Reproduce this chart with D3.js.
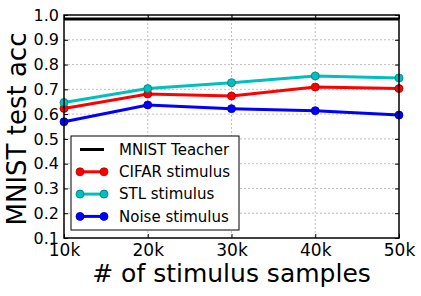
<!DOCTYPE html>
<html>
<head>
<meta charset="utf-8">
<script src="https://cdn.jsdelivr.net/npm/d3@7"></script>
<style>
  body { margin: 0; background: #fff; }
  svg { font-family: "DejaVu Sans", sans-serif; }
  .grid line { stroke: #b0b0b0; stroke-dasharray: 2,2; stroke-width: 0.8; }
</style>
</head>
<body>
<div id="chart"></div>
<script>
// data
var samples = [10000, 20000, 30000, 40000, 50000];
var xTickLabels = ["10k", "20k", "30k", "40k", "50k"];
var yTicks = [0.1, 0.2, 0.3, 0.4, 0.5, 0.6, 0.7, 0.8, 0.9, 1.0];
var teacherAcc = 0.984;
var cifarAcc = [0.623, 0.681, 0.673, 0.709, 0.703];
var stlAcc = [0.647, 0.703, 0.727, 0.754, 0.746];
var noiseAcc = [0.569, 0.637, 0.622, 0.614, 0.596];

var series = [
  {name: "CIFAR stimulus", values: cifarAcc, color: "#ff0000"},
  {name: "STL stimulus", values: stlAcc, color: "#00bfbf"},
  {name: "Noise stimulus", values: noiseAcc, color: "#0000ff"}
];

var W = 421, H = 296;
var margin = {top: 15, right: 22, bottom: 58, left: 64};
var width = W - margin.left - margin.right,
    height = H - margin.top - margin.bottom;

var svg = d3.select("#chart").append("svg")
    .attr("width", W)
    .attr("height", H);

var g = svg.append("g")
    .attr("transform", "translate(" + margin.left + "," + margin.top + ")");

var x = d3.scaleLinear().domain([10000, 50000]).range([0, width]);
var y = d3.scaleLinear().domain([0.1, 1.0]).range([height, 0]);

// grid
g.append("g").attr("class", "grid")
    .selectAll("line").data(samples.slice(1, -1)).enter().append("line")
    .attr("x1", function(d) { return x(d); }).attr("x2", function(d) { return x(d); })
    .attr("y1", 0).attr("y2", height);
g.append("g").attr("class", "grid")
    .selectAll("line").data(yTicks.slice(1, -1)).enter().append("line")
    .attr("y1", function(d) { return y(d); }).attr("y2", function(d) { return y(d); })
    .attr("x1", 0).attr("x2", width);

// axes with inward ticks
var xAxis = d3.axisBottom(x).tickValues(samples)
    .tickFormat(function(d, i) { return xTickLabels[i]; })
    .tickSizeInner(-4).tickSizeOuter(0).tickPadding(6);
var yAxis = d3.axisLeft(y).tickValues(yTicks)
    .tickFormat(d3.format(".1f"))
    .tickSizeInner(-4).tickSizeOuter(0).tickPadding(5);

g.append("g").attr("transform", "translate(0," + height + ")").call(xAxis)
    .call(function(s) { s.select(".domain").remove(); })
    .selectAll("text").attr("font-size", 17).attr("fill", "#000")
    .attr("font-family", "DejaVu Sans");
g.append("g").call(yAxis)
    .call(function(s) { s.select(".domain").remove(); })
    .selectAll("text").attr("font-size", 16).attr("fill", "#000")
    .attr("font-family", "DejaVu Sans");
// top and right ticks
g.append("g").call(d3.axisTop(x).tickValues(samples).tickFormat("").tickSizeInner(-4).tickSizeOuter(0))
    .select(".domain").remove();
g.append("g").attr("transform", "translate(" + width + ",0)")
    .call(d3.axisRight(y).tickValues(yTicks).tickFormat("").tickSizeInner(-4).tickSizeOuter(0))
    .select(".domain").remove();

// teacher line
g.append("line")
    .attr("x1", x(10000)).attr("x2", x(50000))
    .attr("y1", y(teacherAcc)).attr("y2", y(teacherAcc))
    .attr("stroke", "#000").attr("stroke-width", 3);

var line = d3.line()
    .x(function(d, i) { return x(samples[i]); })
    .y(function(d) { return y(d); });

var sg = g.selectAll(".series").data(series).enter().append("g").attr("class", "series");
sg.append("path")
    .attr("d", function(d) { return line(d.values); })
    .attr("fill", "none")
    .attr("stroke", function(d) { return d.color; })
    .attr("stroke-width", 3);
sg.selectAll("circle")
    .data(function(d) { return d.values.map(function(v, i) { return {v: v, i: i, color: d.color}; }); })
    .enter().append("circle")
    .attr("cx", function(d) { return x(samples[d.i]); })
    .attr("cy", function(d) { return y(d.v); })
    .attr("r", 4)
    .attr("fill", function(d) { return d.color; })
    .attr("stroke", function(d) { return d3.color(d.color).darker(1.2); })
    .attr("stroke-width", 0.8);

// frame
g.append("rect").attr("width", width).attr("height", height)
    .attr("fill", "none").attr("stroke", "#000").attr("stroke-width", 1.5);

// legend
var legend = g.append("g").attr("transform", "translate(7,121)");
legend.append("rect")
    .attr("width", 168).attr("height", 94)
    .attr("fill", "#fff").attr("stroke", "#000").attr("stroke-width", 1);
var legendItems = [{name: "MNIST Teacher", color: "#000", marker: false}].concat(
    series.map(function(s) { return {name: s.name, color: s.color, marker: true}; }));
var li = legend.selectAll(".li").data(legendItems).enter().append("g")
    .attr("transform", function(d, i) { return "translate(0," + (13.5 + i * 22.3) + ")"; });
li.append("line").attr("x1", 9).attr("x2", 33).attr("y1", 0).attr("y2", 0)
    .attr("stroke", function(d) { return d.color; }).attr("stroke-width", 3);
li.filter(function(d) { return d.marker; }).selectAll("circle")
    .data(function(d) { return [9, 33].map(function(cx) { return {cx: cx, color: d.color}; }); })
    .enter().append("circle")
    .attr("cx", function(d) { return d.cx; }).attr("cy", 0).attr("r", 4)
    .attr("fill", function(d) { return d.color; })
    .attr("stroke", function(d) { return d3.color(d.color).darker(1.2); })
    .attr("stroke-width", 0.8);
li.append("text").attr("x", 48).attr("dy", "0.35em")
    .attr("font-size", 15).attr("fill", "#000")
    .text(function(d) { return d.name; });

// axis titles
svg.append("text")
    .attr("x", margin.left + width / 2).attr("y", H - 14)
    .attr("text-anchor", "middle").attr("font-size", 25)
    .text("# of stimulus samples");
svg.append("text")
    .attr("transform", "translate(26,129) rotate(-90)")
    .attr("text-anchor", "middle").attr("font-size", 26)
    .text("MNIST test acc");
</script>
</body>
</html>
